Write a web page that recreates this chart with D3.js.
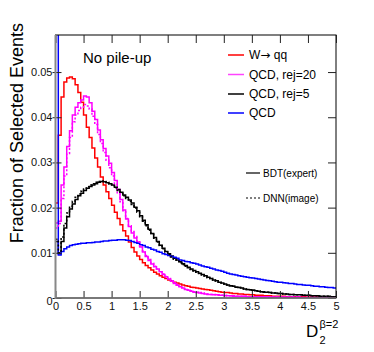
<!DOCTYPE html>
<html>

<head>
    <script src="https://cdnjs.cloudflare.com/ajax/libs/d3/7.8.5/d3.min.js"></script>
    <style>
        body {
            margin: 0;
            background: white;
        }

        text {
            font-family: 'Liberation Sans', Arial, sans-serif;
        }
    </style>
</head>

<body>
    <div id="root"></div>
    <script>
        // bin edges of D2 (beta=2), 100 bins from 0 to 5
        const binEdges = d3.range(0, 101).map(i => i * 0.05)

        const wqq = [
            0.021, 0.036, 0.0445, 0.0478, 0.0487, 0.0489, 0.0485, 0.0472, 0.0455, 0.0433,
            0.0405, 0.0378, 0.0355, 0.0332, 0.031, 0.029, 0.0268, 0.025, 0.0235, 0.022,
            0.0205, 0.019, 0.0176, 0.0162, 0.0149, 0.0137, 0.0124, 0.0112, 0.0102, 0.0093,
            0.0085, 0.0078, 0.0072, 0.0067, 0.0062, 0.0057, 0.0053, 0.0049, 0.0046, 0.0043,
            0.004, 0.0038, 0.0035, 0.0033, 0.0031, 0.0029, 0.0027, 0.0026, 0.0024, 0.0023,
            0.0022, 0.0021, 0.002, 0.0019, 0.0018, 0.0017, 0.0016, 0.0015, 0.0014, 0.0013,
            0.0012, 0.0012, 0.0011, 0.001, 0.001, 0.0009, 0.0009, 0.0008, 0.0008, 0.0007,
            0.0007, 0.0006, 0.0006, 0.0006, 0.0005, 0.0005, 0.0005, 0.0004, 0.0004, 0.0004,
            0.0004, 0.0004, 0.0003, 0.0003, 0.0003, 0.0003, 0.0003, 0.0003, 0.0003, 0.0002,
            0.0002, 0.0002, 0.0002, 0.0002, 0.0002, 0.0002, 0.0002, 0.0002, 0.0002, 0.0002
        ]

        const qcdRej20 = [
            0.0166, 0.017, 0.025, 0.029, 0.0335, 0.037, 0.0405, 0.0422, 0.0432, 0.0438,
            0.0447, 0.0445, 0.0432, 0.0413, 0.0395, 0.0372, 0.035, 0.0331, 0.0314, 0.0298,
            0.0278, 0.026, 0.024, 0.0218, 0.0195, 0.0175, 0.0158, 0.0144, 0.0133, 0.0124,
            0.0113, 0.0102, 0.0092, 0.0083, 0.0075, 0.0069, 0.0064, 0.0058, 0.0052, 0.0047,
            0.0042, 0.0037, 0.0032, 0.0028, 0.0025, 0.0022, 0.0019, 0.0017, 0.0015, 0.0013,
            0.0012, 0.0011, 0.001, 0.0009, 0.0008, 0.0008, 0.0007, 0.0007, 0.0006, 0.0006,
            0.0005, 0.0005, 0.0005, 0.0004, 0.0004, 0.0004, 0.0004, 0.0004, 0.0003, 0.0003,
            0.0003, 0.0003, 0.0003, 0.0003, 0.0002, 0.0003, 0.0002, 0.0002, 0.0002, 0.0002,
            0.0002, 0.0002, 0.0002, 0.0002, 0.0002, 0.0001, 0.0002, 0.0001, 0.0001, 0.0001,
            0.0001, 0.0001, 0.0001, 0.0001, 0.0001, 0.0001, 0.0001, 0.0001, 0.0001, 0.0001
        ]

        const qcdRej5 = [
            0.0125, 0.0098, 0.0125, 0.0155, 0.018, 0.0197, 0.0208, 0.0218, 0.0226, 0.0232,
            0.0238, 0.0243, 0.0247, 0.025, 0.0253, 0.0256, 0.0258, 0.0257, 0.0255, 0.0253,
            0.025, 0.0245, 0.024, 0.0234, 0.0228, 0.0223, 0.0217, 0.021, 0.0201, 0.0193,
            0.0182, 0.0172, 0.0162, 0.0152, 0.0143, 0.0134, 0.0125, 0.0117, 0.011, 0.0103,
            0.0098, 0.0093, 0.0088, 0.0084, 0.008, 0.0076, 0.0072, 0.0068, 0.0064, 0.0061,
            0.0058, 0.0055, 0.0052, 0.0049, 0.0046, 0.0043, 0.004, 0.0038, 0.0035, 0.0033,
            0.0031, 0.0029, 0.0027, 0.0026, 0.0024, 0.0023, 0.0022, 0.002, 0.0019, 0.0018,
            0.0017, 0.0016, 0.0015, 0.0014, 0.0013, 0.0013, 0.0012, 0.0011, 0.0011, 0.001,
            0.001, 0.0009, 0.0009, 0.0008, 0.0008, 0.0007, 0.0007, 0.0007, 0.0006, 0.0006,
            0.0006, 0.0005, 0.0005, 0.0005, 0.0004, 0.0004, 0.0004, 0.0004, 0.0003, 0.0003
        ]

        const qcd = [
            0.09, 0.0095, 0.0103, 0.0109, 0.0113, 0.0116, 0.0118, 0.0119, 0.012, 0.0121,
            0.0121, 0.0122, 0.0122, 0.0123, 0.0124, 0.0124, 0.0125, 0.0126, 0.0126, 0.0127,
            0.0128, 0.0128, 0.0129, 0.0129, 0.0129, 0.0128, 0.0127, 0.0125, 0.0123, 0.0121,
            0.0118, 0.0116, 0.0113, 0.0111, 0.0108, 0.0106, 0.0103, 0.0101, 0.0098, 0.0096,
            0.0094, 0.0092, 0.009, 0.0088, 0.0084, 0.0083, 0.0081, 0.008, 0.0078, 0.0077,
            0.0075, 0.0073, 0.0071, 0.0069, 0.0068, 0.0066, 0.0064, 0.0062, 0.0061, 0.0059,
            0.0057, 0.0055, 0.0053, 0.0052, 0.0051, 0.0049, 0.0048, 0.0047, 0.0046, 0.0045,
            0.0044, 0.0043, 0.0042, 0.0041, 0.004, 0.0039, 0.0038, 0.0037, 0.0036, 0.0035,
            0.0035, 0.0034, 0.0033, 0.0032, 0.0032, 0.0031, 0.003, 0.003, 0.0029, 0.0028,
            0.0028, 0.0027, 0.0026, 0.0026, 0.0025, 0.0025, 0.0024, 0.0023, 0.0023, 0.0022
        ]

        // DNN(image) versions, drawn dotted
        const qcdRej20Dnn = [
            0.0155, 0.0165, 0.022, 0.027, 0.032, 0.0355, 0.039, 0.0405, 0.0415, 0.0422,
            0.0428, 0.0425, 0.0418, 0.0402, 0.0384, 0.0362, 0.0342, 0.0322, 0.0305, 0.0288,
            0.027, 0.0252, 0.0233, 0.0213, 0.0193, 0.0176, 0.016, 0.0147, 0.0136, 0.0126,
            0.0115, 0.0104, 0.0094, 0.0085, 0.0077, 0.007, 0.0064, 0.0058, 0.0053, 0.0048,
            0.0043, 0.0038, 0.0034, 0.003, 0.0026, 0.0023, 0.002, 0.0018, 0.0016, 0.0014,
            0.0013, 0.0012, 0.0011, 0.001, 0.0009, 0.0008, 0.0008, 0.0007, 0.0007, 0.0006,
            0.0006, 0.0005, 0.0005, 0.0005, 0.0004, 0.0004, 0.0004, 0.0004, 0.0003, 0.0003,
            0.0003, 0.0003, 0.0003, 0.0003, 0.0003, 0.0002, 0.0002, 0.0002, 0.0002, 0.0002,
            0.0002, 0.0002, 0.0002, 0.0002, 0.0002, 0.0002, 0.0001, 0.0002, 0.0001, 0.0001,
            0.0001, 0.0001, 0.0001, 0.0001, 0.0001, 0.0001, 0.0001, 0.0001, 0.0001, 0.0001
        ]

        const qcdRej5Dnn = [
            0.013, 0.01, 0.0135, 0.0165, 0.0188, 0.0203, 0.0214, 0.0223, 0.023, 0.0236,
            0.0241, 0.0246, 0.025, 0.0253, 0.0256, 0.0258, 0.0259, 0.0258, 0.0256, 0.0253,
            0.0249, 0.0244, 0.0238, 0.0232, 0.0226, 0.022, 0.0214, 0.0207, 0.0199, 0.019,
            0.018, 0.017, 0.016, 0.015, 0.0141, 0.0132, 0.0124, 0.0116, 0.0109, 0.0102,
            0.0096, 0.0091, 0.0086, 0.0082, 0.0078, 0.0074, 0.007, 0.0067, 0.0063, 0.006,
            0.0057, 0.0054, 0.0051, 0.0048, 0.0045, 0.0043, 0.004, 0.0037, 0.0035, 0.0033,
            0.0031, 0.0029, 0.0027, 0.0026, 0.0024, 0.0023, 0.0021, 0.002, 0.0019, 0.0018,
            0.0017, 0.0016, 0.0015, 0.0014, 0.0014, 0.0013, 0.0012, 0.0011, 0.0011, 0.001,
            0.001, 0.0009, 0.0009, 0.0008, 0.0008, 0.0007, 0.0007, 0.0007, 0.0006, 0.0006,
            0.0006, 0.0005, 0.0005, 0.0005, 0.0004, 0.0004, 0.0004, 0.0004, 0.0003, 0.0003
        ]

        const xTicks = [0, 0.5, 1, 1.5, 2, 2.5, 3, 3.5, 4, 4.5, 5]
        const yTicks = [0, 0.01, 0.02, 0.03, 0.04, 0.05]
        const legendNames = ['W\u2192 qq', 'QCD, rej=20', 'QCD, rej=5', 'QCD']
        const legendColors = ['#ff0000', '#ff44ff', '#000000', '#0000ff']
        const styleNames = ['BDT(expert)', 'DNN(image)']

        const w = 374
        const h = 352
        const padLeft = 55.5, padRight = 336, padTop = 35, padBottom = 298

        const svg = d3.select('#root')
            .append('svg')
            .attr('width', w)
            .attr('height', h)

        svg.append('rect').attr('width', w).attr('height', h).attr('fill', 'white')

        const x = d3.scaleLinear().domain([0, 5]).range([padLeft, padRight])
        const y = d3.scaleLinear().domain([0, 0.0582]).range([padBottom, padTop])

        svg.append('clipPath').attr('id', 'plotclip')
            .append('rect')
            .attr('x', padLeft).attr('y', padTop)
            .attr('width', padRight - padLeft).attr('height', padBottom - padTop)

        const histLine = d3.line()
            .x(d => x(d[0]))
            .y(d => y(d[1]))
            .curve(d3.curveStepAfter)

        function histPoints(vals) {
            let pts = vals.map((v, i) => [binEdges[i], v])
            pts.push([binEdges[vals.length], vals[vals.length - 1]])
            return pts
        }

        const hists = [
            { vals: wqq, color: '#ff0000', dash: null },
            { vals: qcdRej20, color: '#ff00ff', dash: null },
            { vals: qcdRej5, color: '#000000', dash: null },
            { vals: qcd, color: '#0000ff', dash: null },
            { vals: qcdRej20Dnn, color: '#ff00ff', dash: '2,2' },
            { vals: qcdRej5Dnn, color: '#000000', dash: '2,2' }
        ]

        const g = svg.append('g').attr('clip-path', 'url(#plotclip)')
        g.selectAll('path')
            .data(hists)
            .enter()
            .append('path')
            .attr('d', d => histLine(histPoints(d.vals)))
            .attr('fill', 'none')
            .attr('stroke', d => d.color)
            .attr('stroke-width', 1.5)
            .attr('stroke-dasharray', d => d.dash)

        // frame
        svg.append('rect')
            .attr('x', padLeft).attr('y', padTop)
            .attr('width', padRight - padLeft).attr('height', padBottom - padTop)
            .attr('fill', 'none').attr('stroke', 'black').attr('stroke-width', 1)

        // axes
        svg.append('g')
            .attr('transform', `translate(0,${padBottom})`)
            .call(d3.axisBottom(x).tickValues(xTicks).tickSizeInner(-7).tickSizeOuter(0).tickPadding(4)
                .tickFormat(d3.format('')))
        svg.append('g')
            .attr('transform', `translate(0,${padTop})`)
            .call(d3.axisTop(x).tickValues(xTicks).tickSizeInner(-8).tickSizeOuter(0).tickFormat(''))
        const yAxis = svg.append('g')
            .attr('transform', `translate(${padLeft},0)`)
            .call(d3.axisLeft(y).tickValues(yTicks).tickSize(0).tickPadding(3)
                .tickFormat(d => d === 0 ? '0' : d3.format('.2f')(d)))
        yAxis.selectAll('.tick line').attr('x1', -3).attr('x2', 6)
        yAxis.selectAll('.tick text').attr('dy', d => d === 0 ? '0.6em' : '0.32em')
        svg.append('g')
            .attr('transform', `translate(${padRight},0)`)
            .call(d3.axisRight(y).tickValues(yTicks).tickSizeInner(-8).tickSizeOuter(0).tickFormat(''))

        svg.selectAll('.domain').attr('stroke', 'none')
        svg.selectAll('.tick text')
            .attr('font-family', "'Liberation Sans', Arial, sans-serif")
            .attr('font-size', 11)
            .attr('fill', '#111')
        svg.selectAll('.tick line').attr('stroke', '#222')

        // left and bottom axis lines, grey and thicker like the original
        svg.append('line')
            .attr('x1', padLeft).attr('x2', padLeft).attr('y1', padTop).attr('y2', padBottom + 1)
            .attr('stroke', '#888').attr('stroke-width', 2)
        svg.append('line')
            .attr('x1', padLeft).attr('x2', padRight).attr('y1', padBottom).attr('y2', padBottom)
            .attr('stroke', '#777').attr('stroke-width', 1.5)

        // y title
        svg.append('text')
            .attr('transform', 'translate(23,23) rotate(-90)')
            .attr('text-anchor', 'end')
            .attr('font-size', 18)
            .text('Fraction of Selected Events')

        // x title D_2^{beta=2}
        svg.append('text').attr('x', 306).attr('y', 337).attr('font-size', 17).text('D')
        svg.append('text').attr('x', 319.5).attr('y', 344).attr('font-size', 11).text('2')
        svg.append('text').attr('x', 319.5).attr('y', 328).attr('font-size', 11).text('\u03b2=2')

        svg.append('text')
            .attr('x', 83).attr('y', 63)
            .attr('font-size', 15)
            .text('No pile-up')

        // legend
        const legendY = [55, 74.5, 94, 113]
        const leg = svg.append('g')
        leg.selectAll('line')
            .data(legendNames)
            .enter()
            .append('line')
            .attr('x1', 228).attr('x2', 244)
            .attr('y1', (d, i) => legendY[i]).attr('y2', (d, i) => legendY[i])
            .attr('stroke', (d, i) => legendColors[i])
            .attr('stroke-width', 1.5)
        const legText = leg.selectAll('text')
            .data(legendNames)
            .enter()
            .append('text')
            .attr('x', 249)
            .attr('y', (d, i) => legendY[i])
            .attr('dy', '0.36em')
            .attr('font-size', 12)
        // the arrow glyph is too small in Liberation Sans, take it from DejaVu
        legText.each(function (d) {
            const parts = d.split('\u2192')
            const t = d3.select(this)
            if (parts.length == 1) {
                t.text(d)
                return
            }
            t.append('tspan').text(parts[0])
            t.append('tspan').attr('font-family', "'DejaVu Sans'").text('\u2192')
            t.append('tspan').text(parts[1])
        })

        const styleY = [173, 198]
        const leg2 = svg.append('g')
        leg2.selectAll('line')
            .data(styleNames)
            .enter()
            .append('line')
            .attr('x1', 246).attr('x2', 260)
            .attr('y1', (d, i) => styleY[i]).attr('y2', (d, i) => styleY[i])
            .attr('stroke', 'black')
            .attr('stroke-width', 1.2)
            .attr('stroke-dasharray', (d, i) => i == 1 ? '2,2' : null)
        leg2.selectAll('text')
            .data(styleNames)
            .enter()
            .append('text')
            .attr('x', 263)
            .attr('y', (d, i) => styleY[i])
            .attr('dy', '0.36em')
            .attr('font-size', 10)
            .text(d => d)
    </script>
</body>

</html>
